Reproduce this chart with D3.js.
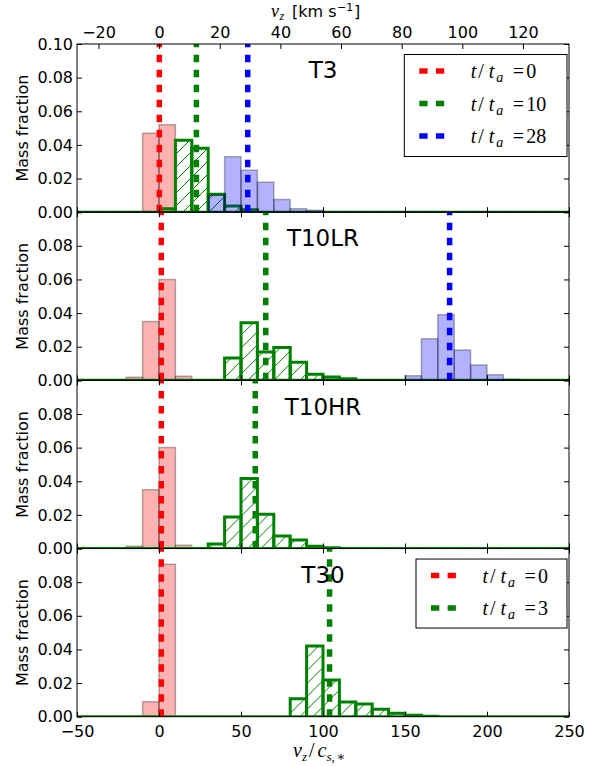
<!DOCTYPE html>
<html>
<head>
<meta charset="utf-8">
<script src="https://cdn.jsdelivr.net/npm/d3@7"></script>
<style>
  body { margin: 0; background: #fff; }
  svg { display: block; }
</style>
</head>
<body>
<svg id="chart" width="597" height="766"></svg>
<script>
// ---- data -------------------------------------------------------------
const binWidth = 10;                 // histogram bin width in units of c_s,*
const velRange = [-50, 250];         // v_z / c_s,*
const kmsRange = [-27.1, 135.2];     // same span expressed in km/s (top axis)
const panelNames = ["T3", "T10LR", "T10HR", "T30"];
const massTicks = [0, 0.02, 0.04, 0.06, 0.08, 0.10];
const velTicks = [-50, 0, 50, 100, 150, 200, 250];
const kmsTicks = [-20, 0, 20, 40, 60, 80, 100, 120];

// T3  (first bin left edge, then mass fraction per bin)
const t3RedStart = -10,  t3Red   = [0.047, 0.052];
const t3GreenStart = 0,  t3Green = [0.002, 0.0428, 0.038, 0.0107, 0.0037, 0.0014];
const t3BlueStart = 30,  t3Blue  = [0.010, 0.033, 0.025, 0.0178, 0.0075, 0.0021, 0.0012];
const t3Means = [0.2, 22.8, 54.1];
const t3Times = ["0", "10", "28"];

// T10LR
const t10lrRedStart = -20,  t10lrRed   = [0.0018, 0.035, 0.060, 0.0024];
const t10lrGreenStart = 40, t10lrGreen = [0.0133, 0.0343, 0.0168, 0.0196, 0.0107, 0.0037, 0.002, 0.001];
const t10lrBlueStart = 150, t10lrBlue  = [0.0027, 0.0248, 0.039, 0.018, 0.0091, 0.0034, 0.0006];
const t10lrMeans = [1.4, 65.1, 177.2];

// T10HR
const t10hrRedStart = -20,  t10hrRed   = [0.0014, 0.035, 0.060, 0.002];
const t10hrGreenStart = 30, t10hrGreen = [0.0027, 0.0188, 0.0416, 0.0204, 0.0075, 0.0051, 0.0014, 0.0004];
const t10hrMeans = [1.4, 58.7];

// T30
const t30RedStart = -10,  t30Red   = [0.0089, 0.0906];
const t30GreenStart = 80, t30Green = [0.0107, 0.042, 0.0218, 0.0087, 0.0075, 0.0044, 0.002, 0.0008, 0.0003];
const t30Means = [1.4, 104];
const t30Times = ["0", "3"];

// ---- layout -----------------------------------------------------------
const W = 597, H = 766;
const M = { left: 77, right: 569, top: 44, bottom: 716.7 };
const panelH = (M.bottom - M.top) / 4;
const colors = { red: "#ff0000", green: "#008000", blue: "#0000ff" };
const sans = "'DejaVu Sans', sans-serif";
const serif = "'Liberation Serif', 'DejaVu Serif', serif";

const x = d3.scaleLinear().domain(velRange).range([M.left, M.right]);
const xKms = d3.scaleLinear().domain(kmsRange).range([M.left, M.right]);
const y = d3.scaleLinear().domain([0, 0.1]).range([panelH, 0]);

// expand a run of bin values over the full histogram range (empty bins = 0)
function fullBins(start, vals) {
  const out = [];
  for (let e = velRange[0]; e < velRange[1]; e += binWidth) {
    const k = Math.round((e - start) / binWidth);
    out.push({ x0: e, x1: e + binWidth, v: (k >= 0 && k < vals.length) ? vals[k] : 0 });
  }
  return out;
}

const panels = [
  { name: panelNames[0], series: [
      { c: "red", bins: fullBins(t3RedStart, t3Red) },
      { c: "green", bins: fullBins(t3GreenStart, t3Green) },
      { c: "blue", bins: fullBins(t3BlueStart, t3Blue) } ],
    means: t3Means, legend: t3Times },
  { name: panelNames[1], series: [
      { c: "red", bins: fullBins(t10lrRedStart, t10lrRed) },
      { c: "green", bins: fullBins(t10lrGreenStart, t10lrGreen) },
      { c: "blue", bins: fullBins(t10lrBlueStart, t10lrBlue) } ],
    means: t10lrMeans },
  { name: panelNames[2], series: [
      { c: "red", bins: fullBins(t10hrRedStart, t10hrRed) },
      { c: "green", bins: fullBins(t10hrGreenStart, t10hrGreen) } ],
    means: t10hrMeans },
  { name: panelNames[3], series: [
      { c: "red", bins: fullBins(t30RedStart, t30Red) },
      { c: "green", bins: fullBins(t30GreenStart, t30Green) } ],
    means: t30Means, legend: t30Times }
];
const meanColors = ["red", "green", "blue"];

const svg = d3.select("#chart");
svg.append("rect").attr("width", W).attr("height", H).attr("fill", "#fff");
const defs = svg.append("defs");

// diagonal hatch for the green histograms
const hs = 13;
defs.append("pattern").attr("id", "hatch").attr("patternUnits", "userSpaceOnUse")
  .attr("width", hs).attr("height", hs)
  .append("path")
  .attr("d", `M0,${hs}L${hs},0M${-hs / 2},${hs / 2}L${hs / 2},${-hs / 2}M${hs / 2},${hs * 1.5}L${hs * 1.5},${hs / 2}`)
  .attr("stroke", colors.green).attr("stroke-width", 1);

function styleBars(sel, c) {
  if (c === "green") {
    sel.attr("fill", "url(#hatch)").attr("stroke", colors.green).attr("stroke-width", 3);
  } else {
    sel.attr("fill", colors[c]).attr("fill-opacity", 0.3)
       .attr("stroke", "#000").attr("stroke-opacity", 0.3).attr("stroke-width", 1.5);
  }
}

const fmt2 = d3.format(".2f");

panels.forEach((p, i) => {
  const g = svg.append("g").attr("transform", `translate(0,${M.top + i * panelH})`);
  const clipId = "clip" + i;
  defs.append("clipPath").attr("id", clipId).append("rect")
    .attr("x", M.left).attr("y", 0).attr("width", M.right - M.left).attr("height", panelH);
  const plot = g.append("g").attr("clip-path", `url(#${clipId})`);

  // histograms
  p.series.forEach(s => {
    plot.append("g").selectAll("path").data(s.bins).join("path")
      .attr("d", d => `M${x(d.x0)},${y(0)}V${y(d.v)}H${x(d.x1)}V${y(0)}Z`)
      .call(styleBars, s.c);
  });

  // dashed lines marking the mean velocity of each snapshot
  p.means.forEach((m, k) => {
    plot.append("line")
      .attr("x1", x(m)).attr("x2", x(m)).attr("y1", y(0)).attr("y2", y(0.1))
      .attr("stroke", colors[meanColors[k]]).attr("stroke-width", 5.5)
      .attr("stroke-dasharray", "7.5,7.5");
  });

  // axes with inward ticks
  const axes = g.append("g");
  const bottom = d3.axisBottom(x).tickValues(velTicks).tickSize(-5).tickPadding(9);
  if (i !== 3) bottom.tickFormat("");
  axes.append("g").attr("transform", `translate(0,${panelH})`).call(bottom);

  const top = i === 0
    ? d3.axisTop(xKms).tickValues(kmsTicks).tickSize(-5).tickPadding(6)
    : d3.axisTop(x).tickValues(velTicks).tickSize(-5).tickFormat("");
  axes.append("g").call(top);

  axes.append("g").attr("transform", `translate(${M.left},0)`)
    .call(d3.axisLeft(y).tickValues(massTicks).tickSize(-5).tickPadding(4)
      .tickFormat(d => (i > 0 && d > 0.09) ? "" : fmt2(d)));
  axes.append("g").attr("transform", `translate(${M.right},0)`)
    .call(d3.axisRight(y).tickValues(massTicks).tickSize(-5).tickFormat(""));

  axes.selectAll(".domain").remove();
  axes.selectAll("g").attr("font-size", 16).attr("font-family", sans);
  axes.selectAll(".tick text").attr("fill", "#000");
  axes.selectAll(".tick line").attr("stroke", "#000").attr("stroke-width", 1);

  g.append("rect").attr("x", M.left).attr("y", 0)
    .attr("width", M.right - M.left).attr("height", panelH)
    .attr("fill", "none").attr("stroke", "#000").attr("stroke-width", 1);

  // panel name
  g.append("text").attr("x", (M.left + M.right) / 2).attr("y", 34.2)
    .attr("text-anchor", "middle").attr("font-family", sans).attr("font-size", 23)
    .text(p.name);

  // y label
  g.append("text").attr("transform", `translate(28,${panelH / 2}) rotate(-90)`)
    .attr("text-anchor", "middle").attr("font-family", sans).attr("font-size", 16)
    .text("Mass fraction");

  // legend
  if (p.legend) {
    const n = p.legend.length;
    const bw = n === 3 ? 162.7 : 151;
    const bh = n === 3 ? 102 : 69;
    const bx = 567 - bw, by = 10.5;
    const lg = g.append("g");
    lg.append("rect").attr("x", bx).attr("y", by).attr("width", bw).attr("height", bh)
      .attr("fill", "#fff").attr("stroke", "#000").attr("stroke-width", 1);
    p.legend.forEach((t, k) => {
      const ry = by + 16.5 + k * 32.5;
      lg.append("line").attr("x1", bx + 15).attr("x2", bx + 40.5).attr("y1", ry).attr("y2", ry)
        .attr("stroke", colors[meanColors[k]]).attr("stroke-width", 5.5)
        .attr("stroke-dasharray", "8.3,8.3");
      const tx = bx + 66.5, ty = ry + 7;
      const txt = lg.append("text").attr("y", ty).attr("font-family", serif).attr("font-size", 20);
      txt.append("tspan").attr("x", tx).attr("font-style", "italic").text("t");
      txt.append("tspan").attr("x", tx + 7.5).text("/");
      txt.append("tspan").attr("x", tx + 18).attr("font-style", "italic").text("t");
      txt.append("tspan").attr("x", tx + 25.5).attr("dy", 4).attr("font-style", "italic").attr("font-size", 14).text("a");
      txt.append("tspan").attr("x", tx + 42).attr("dy", -4).text("=");
      txt.append("tspan").attr("x", tx + 55.5).text(t);
    });
  }
});

// top axis title: v_z [km s^-1]
const tt = svg.append("text").attr("y", 17).attr("font-size", 16).attr("font-family", sans);
tt.append("tspan").attr("x", 271).attr("font-family", serif).attr("font-style", "italic").attr("font-size", 18).text("v");
tt.append("tspan").attr("x", 279.5).attr("dy", 3).attr("font-family", serif).attr("font-style", "italic").attr("font-size", 12).text("z");
tt.append("tspan").attr("x", 292).attr("dy", -3).text("[km s");
tt.append("tspan").attr("x", 337).attr("dy", -6).attr("font-size", 11).text("−1");
tt.append("tspan").attr("x", 354).attr("dy", 6).text("]");

// bottom axis title: v_z / c_s,*
const bt = svg.append("text").attr("y", 757).attr("font-family", serif).attr("font-size", 20);
bt.append("tspan").attr("x", 293).attr("font-style", "italic").text("v");
bt.append("tspan").attr("x", 302).attr("dy", 4).attr("font-style", "italic").attr("font-size", 13).text("z");
bt.append("tspan").attr("x", 309).attr("dy", -4).text("/");
bt.append("tspan").attr("x", 317.5).attr("font-style", "italic").text("c");
bt.append("tspan").attr("x", 326.5).attr("dy", 4).attr("font-style", "italic").attr("font-size", 13).text("s,");
bt.append("tspan").attr("x", 336.5).attr("font-size", 13).text("∗");
</script>
</body>
</html>
